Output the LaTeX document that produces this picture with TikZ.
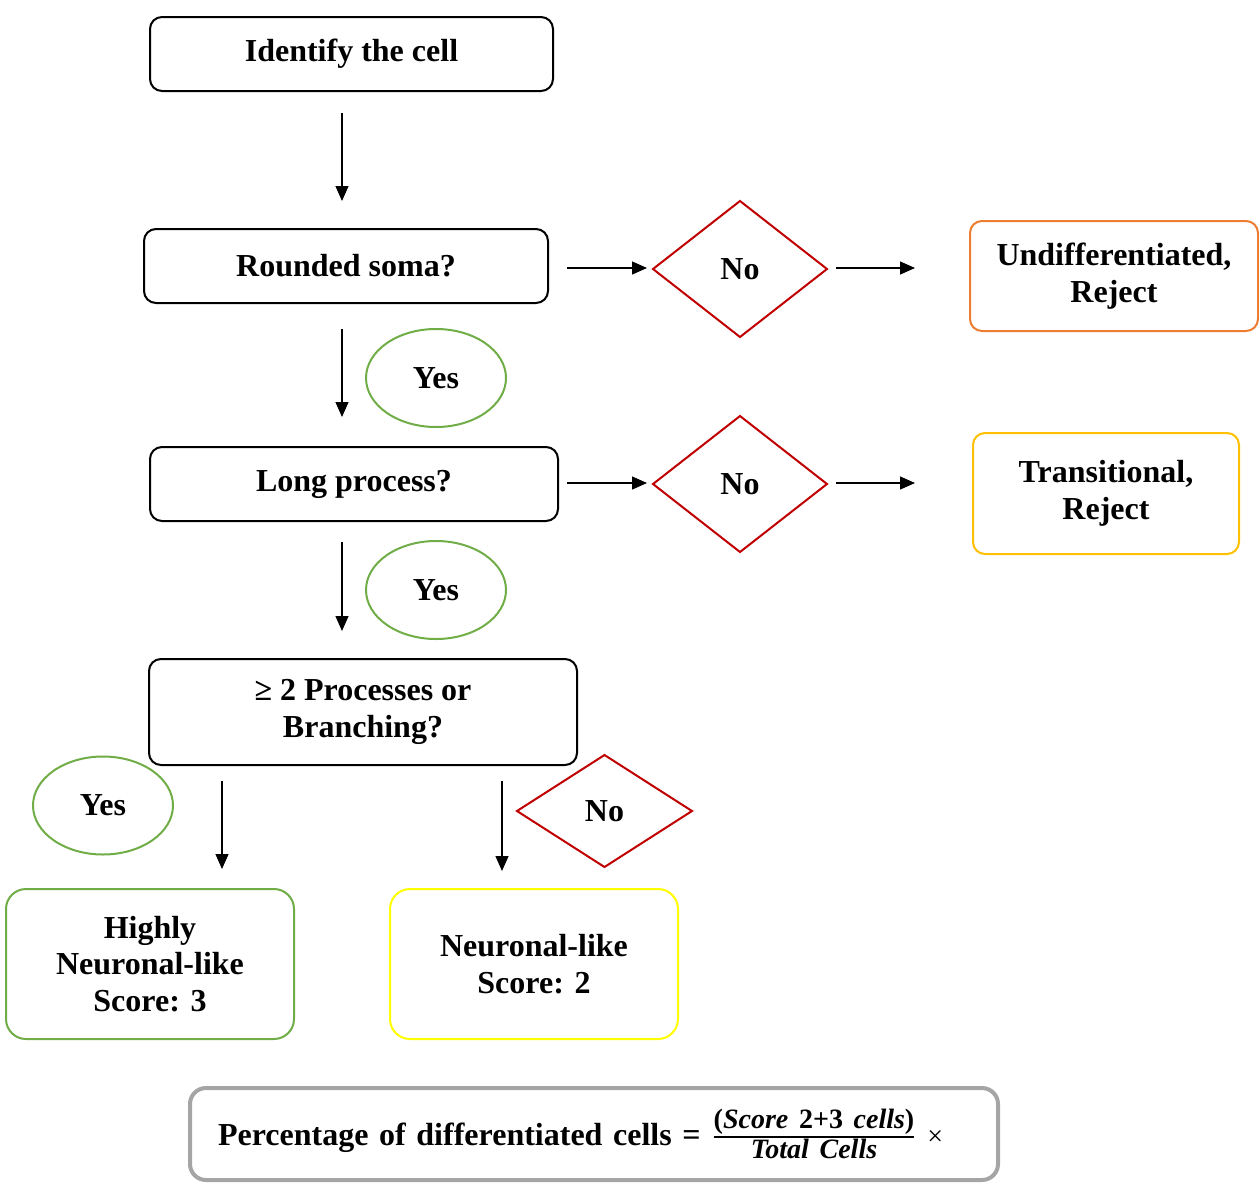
\documentclass[tikz,border=0pt]{standalone}
\usepackage{amsmath}
\usepackage{fontspec}
\setmainfont{Liberation Serif}
\usetikzlibrary{arrows.meta,shapes.geometric}
\definecolor{NoRed}{HTML}{C00000}
\definecolor{YesGreen}{HTML}{70AD47}
\definecolor{RejOrange}{HTML}{ED7D31}
\definecolor{RejGold}{HTML}{FFC000}
\definecolor{ScoreYellow}{HTML}{FFFF00}
\definecolor{FormGray}{HTML}{A5A5A5}

\begin{document}
\begin{tikzpicture}[
  x=0.5pt, y=-0.5pt,
  font=\fontsize{16}{18.3}\selectfont\bfseries,
  flowbox/.style={draw, line width=1pt, rounded corners=6pt, align=center, inner sep=0pt, outer sep=0pt},
  nobox/.style={diamond, draw=NoRed, line width=1pt, inner sep=0pt, outer sep=0pt},
  yesbubble/.style={ellipse, draw=YesGreen, line width=1pt, inner sep=0pt,
    minimum width=70pt, minimum height=49pt},
  arrow/.style={-{Triangle[length=7.5pt,width=6.5pt]}, line width=0.6pt}
]
  \useasboundingbox (0,0) rectangle (1259,1184);

  % main column
  \node[flowbox, minimum width=201.5pt, minimum height=37pt] (ident) at (351.5,54) {Identify the cell};
  \node[flowbox, minimum width=202pt, minimum height=37pt] (soma) at (346,266) {Rounded soma?};
  \node[flowbox, minimum width=204pt, minimum height=37pt] (longp) at (354,484) {Long process?};
  \node[flowbox, minimum width=214pt, minimum height=53pt] (branch) at (363,712) {≥ 2 Processes or\\Branching?};

  % answers
  \node[yesbubble] (yes1) at (436,378) {Yes};
  \node[yesbubble] (yes2) at (436,590) {Yes};
  \node[yesbubble] (yes3) at (103,805.5) {Yes};
  \node[nobox, minimum width=87pt, minimum height=68pt] (no1) at (740,269) {No};
  \node[nobox, minimum width=87pt, minimum height=68pt] (no2) at (740,484) {No};
  \node[nobox, minimum width=87.5pt, minimum height=56pt] (no3) at (604.5,811) {No};

  % outcomes
  \node[flowbox, draw=RejOrange, minimum width=144pt, minimum height=55pt] (undiff) at (1114,276) {Undifferentiated,\\Reject};
  \node[flowbox, draw=RejGold, minimum width=133pt, minimum height=60.5pt] (trans) at (1106,493.5) {Transitional,\\Reject};
  \node[flowbox, draw=YesGreen, rounded corners=10pt, minimum width=144pt, minimum height=75pt] (high) at (150,964) {Highly\\Neuronal-like\\Score: 3};
  \node[flowbox, draw=ScoreYellow, rounded corners=10pt, minimum width=144pt, minimum height=75pt] (neur) at (534,964) {Neuronal-like\\Score: 2};

  % formula
  \node[flowbox, draw=FormGray, line width=2pt, rounded corners=8pt, minimum height=46pt,
    text width=376pt, inner xsep=14pt, align=left] (formula) at (594,1134)
    {Percentage of differentiated cells = $\genfrac{}{}{0.7pt}{1}{\mbox{\fontsize{14}{16}\selectfont\bfseries (\textit{Score} 2+3 \textit{cells})}}{\mbox{\fontsize{14}{16}\selectfont\bfseries\itshape Total Cells}}$ \mbox{\fontsize{14}{16}\selectfont\mdseries ×}};

  % connectors
  \draw[arrow] ([xshift=-4.75pt,yshift=-11pt]ident.south) -- ([xshift=-2pt,yshift=14pt]soma.north);
  \draw[arrow] ([xshift=-2pt,yshift=-13pt]soma.south) -- ([xshift=-6pt,yshift=15pt]longp.north);
  \draw[arrow] ([xshift=-6pt,yshift=-10.5pt]longp.south) -- ([xshift=-10.5pt,yshift=14pt]branch.north);
  \draw[arrow] ([xshift=9.5pt,yshift=-1pt]soma.east) -- ([xshift=-3pt,yshift=0.5pt]no1.west);
  \draw[arrow] ([xshift=4.5pt,yshift=0.5pt]no1.east) -- ([xshift=-27.5pt,yshift=4pt]undiff.west);
  \draw[arrow] ([xshift=4.5pt,yshift=0.5pt]longp.east) -- ([xshift=-3pt,yshift=0.5pt]no2.west);
  \draw[arrow] ([xshift=4.5pt,yshift=0.5pt]no2.east) -- ([xshift=-29pt,yshift=5.25pt]trans.west);
  \draw[arrow] ([xshift=36.5pt,yshift=-8pt]branch.south west) -- ([xshift=36pt,yshift=10pt]high.north);
  \draw[arrow] ([xshift=-37.5pt,yshift=-8pt]branch.south east) -- ([xshift=-16pt,yshift=9pt]neur.north);
\end{tikzpicture}
\end{document}
